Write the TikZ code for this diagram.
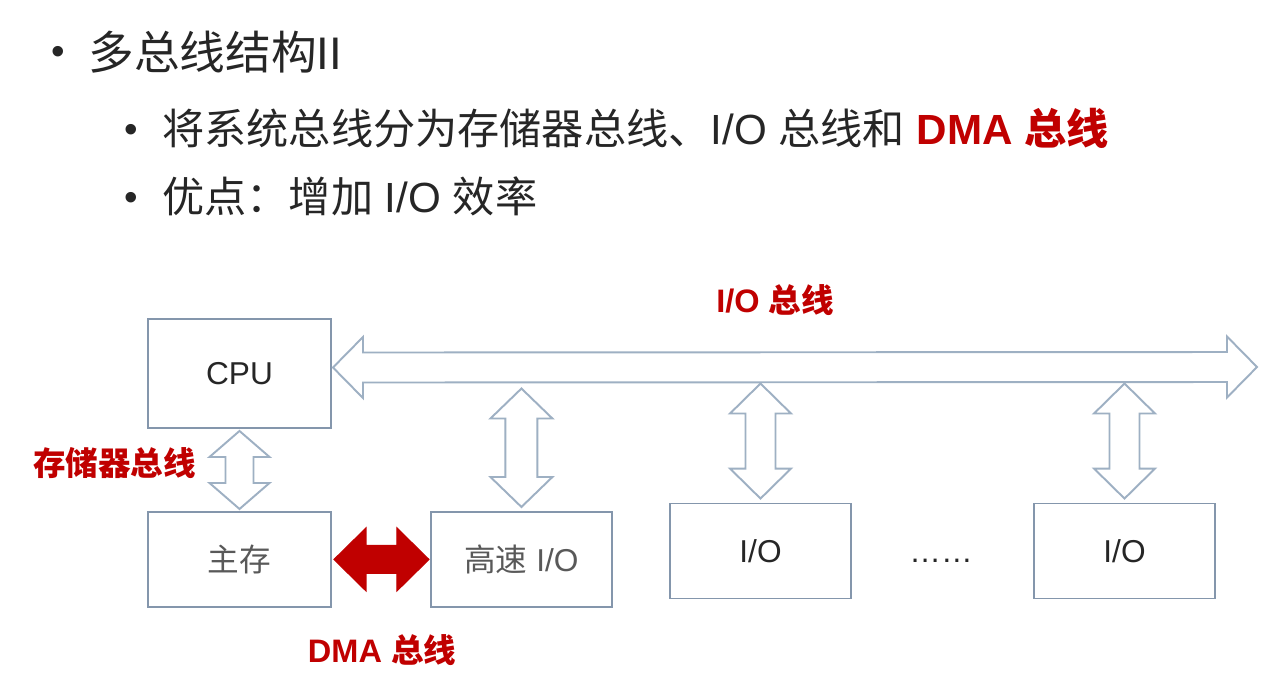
\documentclass[tikz,border=0pt]{standalone}
\usepackage{fontspec}
\setmainfont{Liberation Sans}
\newfontfamily\cjk{Noto Sans CJK SC}
\usepackage{xcolor}
\usetikzlibrary{calc,positioning}
\definecolor{boxline}{HTML}{8496AC}
\definecolor{busline}{HTML}{9EB0C3}
\definecolor{busred}{HTML}{C00000}
\definecolor{ink}{HTML}{262626}
\definecolor{dimink}{HTML}{595959}
\tikzset{
    every picture/.style={line join=miter},
    unitbox/.style={draw=boxline,fill=white,line width=1.1pt,
      minimum width=36.2mm,minimum height=19mm,inner sep=2pt,
      font=\fontsize{18}{21}\selectfont,text=ink},
    busarrow/.style={draw=busline,fill=white,line width=1.1pt},
    dmaarrow/.style={fill=busred,draw=busred,line width=0.6pt},
    buslabel/.style={text=busred,font=\fontsize{18.5}{22}\selectfont\bfseries,inner sep=0pt},
    bullettext/.style={anchor=west,inner sep=0pt,text=ink},
    bulletdot/.style={inner sep=0pt,text=ink,font=\fontsize{22}{24}\selectfont}
}
% block arrow, horizontal: [style]{left tip}{right tip}{half shaft}{half head}{head length}
\newcommand{\blockH}[6][]{%
  \draw[#1] (#2) -- ($(#2)+(#6,-#5)$) -- ($(#2)+(#6,-#4)$) -- ($(#3)+(-#6,-#4)$)
    -- ($(#3)+(-#6,-#5)$) -- (#3) -- ($(#3)+(-#6,#5)$) -- ($(#3)+(-#6,#4)$)
    -- ($(#2)+(#6,#4)$) -- ($(#2)+(#6,#5)$) -- cycle;}
% block arrow, vertical: [style]{top tip}{bottom tip}{half shaft}{half head}{head length}
\newcommand{\blockV}[6][]{%
  \draw[#1] (#2) -- ($(#2)+(#5,#6)$) -- ($(#2)+(#4,#6)$) -- ($(#3)+(#4,-#6)$)
    -- ($(#3)+(#5,-#6)$) -- (#3) -- ($(#3)+(-#5,-#6)$) -- ($(#3)+(-#4,-#6)$)
    -- ($(#2)+(-#4,#6)$) -- ($(#2)+(-#5,#6)$) -- cycle;}
\begin{document}
\begin{tikzpicture}[x=0.2mm,y=-0.2mm]
  \useasboundingbox[fill=white] (0,0) rectangle (1278,693);
  % bullet points
  \node[bulletdot] (dot1) at (58,55) {•};
  \node[bullettext,font=\fontsize{26}{30}\selectfont] (title) at (88,52) {{\cjk 多总线结构}II};
  \node[bulletdot] (dot2) at (131,133) {•};
  \node[bullettext,font=\fontsize{24}{28}\selectfont] (line1) at (162,128)
    {{\cjk 将系统总线分为存储器总线、}I/O {\cjk 总线和} \textcolor{busred}{\bfseries DMA {\cjk 总线}}};
  \node[bulletdot] (dot3) at (131,201) {•};
  \node[bullettext,font=\fontsize{24}{28}\selectfont] (line2) at (162,196)
    {{\cjk 优点：增加} I/O {\cjk 效率}};

  % units
  \node[unitbox,minimum width=36.6mm,minimum height=21.8mm] (cpu) at (239.5,373.5) {CPU};
  \node[unitbox,minimum width=36.6mm,below=16.4mm of cpu,text=dimink] (mem) {\cjk 主存};
  \node[unitbox,right=19.6mm of mem,text=dimink] (fastio) {{\cjk 高速} I/O};
  \node[unitbox] (io1) at (760.5,551) {I/O};
  \node[unitbox] (io2) at (1124.5,551) {I/O};
  \node[text=ink,font=\fontsize{18}{21}\selectfont] (dots) at (941,561) {……};

  % buses
  \coordinate (busL) at ($(cpu.east)+(1,-6)$);
  \coordinate (busR) at (1257,367);
  \blockH[busarrow]{busL}{busR}{15}{30.5}{30}
  \blockV[busarrow]{$(fastio.north |- busL)+(0,21)$}{$(fastio.north)+(0,-4)$}{16}{31}{30}
  \blockV[busarrow]{$(io1.north |- busL)+(0,16)$}{$(io1.north)+(0,-4)$}{15}{30.5}{30}
  \blockV[busarrow]{$(io2.north |- busL)+(0,16)$}{$(io2.north)+(0,-4)$}{15}{30.5}{30}
  \blockV[busarrow]{$(cpu.south)+(0,2)$}{$(mem.north)+(0,-2)$}{14}{30}{26}
  \blockH[dmaarrow]{$(mem.east)+(2,0)$}{$(fastio.west)+(-1,0)$}{14}{31.5}{32}

  % bus labels
  \node[buslabel] (iolabel) at (775,300) {I/O {\cjk 总线}};
  \node[buslabel,anchor=west] (memlabel) at (33,463) {\cjk 存储器总线};
  \node[buslabel] (dmalabel) at (382,650) {DMA {\cjk 总线}};
\end{tikzpicture}
\end{document}
